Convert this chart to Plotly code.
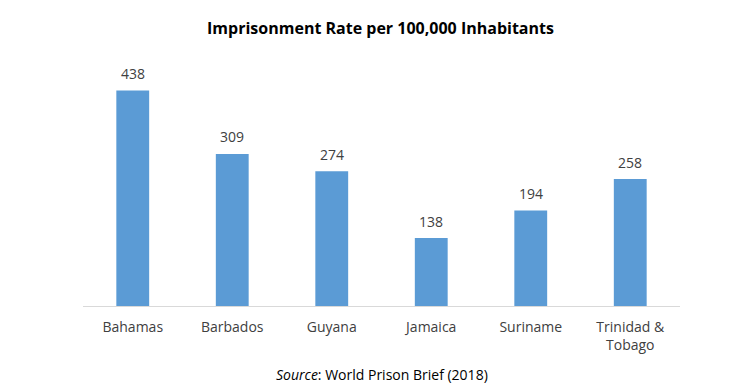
import plotly.graph_objects as go

categories = ["Bahamas", "Barbados", "Guyana", "Jamaica", "Suriname", "Trinidad &<br>Tobago"]
values = [438, 309, 274, 138, 194, 258]

title_text = "Imprisonment Rate per 100,000 Inhabitants"
source_text = "<i>Source</i>: World Prison Brief (2018)"

FONT = "Open Sans"

fig = go.Figure(go.Bar(
    x=categories, y=values,
    marker=dict(color="#5B9BD5", line=dict(width=0)),
    width=0.33,
    hoverinfo="x+y",
))

annotations = [
    dict(x=c, y=v, xref="x", yref="y", text=str(v), showarrow=False,
         xanchor="center", yanchor="middle", yshift=17,
         font=dict(size=14, color="#404040", family=FONT))
    for c, v in zip(categories, values)
]
annotations.append(dict(text=source_text, xref="paper", yref="paper", x=0.5, y=0,
                        yshift=-68, xanchor="center", yanchor="middle", showarrow=False,
                        font=dict(size=14, color="black", family=FONT)))

fig.update_layout(
    width=745, height=378,
    paper_bgcolor="white", plot_bgcolor="white",
    margin=dict(l=75, r=73, t=52, b=80),
    showlegend=False,
    title=dict(text=title_text, x=0.5, xanchor="center", y=1 - 20 / 378, yanchor="middle",
               font=dict(size=16, color="black", family=FONT, weight="bold")),
    font=dict(family=FONT, size=14, color="#404040"),
    xaxis=dict(showline=True, linecolor="#d9d9d9", linewidth=1, ticks="",
               ticklabelstandoff=8,
               tickfont=dict(size=14, color="#404040"), showgrid=False, fixedrange=True),
    yaxis=dict(range=[0, 500], visible=False, showgrid=False, fixedrange=True),
    annotations=annotations,
)

fig.write_html("out.html")
